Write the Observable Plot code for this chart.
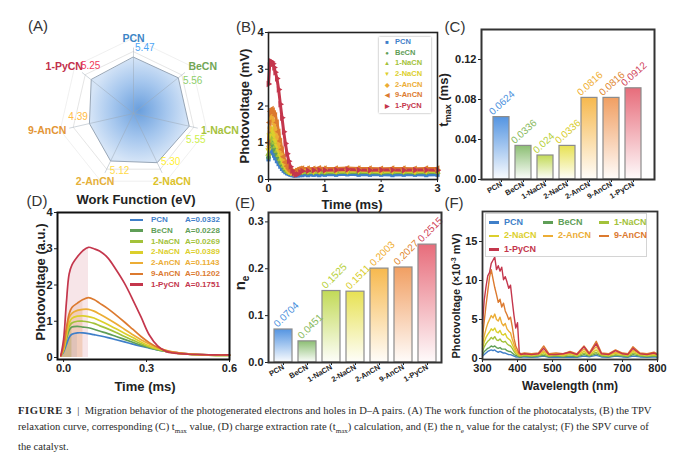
<!DOCTYPE html>
<html>
<head>
<meta charset="utf-8">
<script src="https://cdn.jsdelivr.net/npm/d3@7"></script>
<script src="https://cdn.jsdelivr.net/npm/@observablehq/plot@0.6"></script>
<style>
  body { margin: 0; background: #fff; }
  #fig { position: relative; width: 686px; height: 458px; overflow: hidden;
         font-family: "Liberation Sans", Arial, sans-serif; color: #222; }
  #fig svg { position: absolute; overflow: visible; }
  .t { position: absolute; white-space: nowrap; line-height: 1; }
  .leg { position: absolute; font-weight: bold; white-space: nowrap; }
  #cap { position: absolute; left: 18px; top: 403px; font-family: "Liberation Serif", "DejaVu Serif", serif;
         font-size: 10.6px; line-height: 16px; color: #2a2a2a; white-space: nowrap; }
  #cap sub { font-size: 7px; }
</style>
</head>
<body>
<div id="fig"></div>
<script>
// categories shared by every panel
const names = ["PCN", "BeCN", "1-NaCN", "2-NaCN", "2-AnCN", "9-AnCN", "1-PyCN"];

// (A) work function, eV
const workFunction = [5.47, 5.56, 5.55, 5.30, 5.12, 4.39, 5.25];
// (C) t_max, ms
const tMax = [0.0624, 0.0336, 0.024, 0.0336, 0.0816, 0.0816, 0.0912];
// (D) legend values
const extractionA = [0.0332, 0.0228, 0.0269, 0.0389, 0.1143, 0.1202, 0.1751];
// (E) n_e
const etaE = [0.0704, 0.0451, 0.1525, 0.1511, 0.2003, 0.2027, 0.2515];

// (B) TPV relaxation, mV
const tpvTime = [0, 0.02, 0.04, 0.06, 0.08, 0.10, 0.12, 0.15, 0.18, 0.21, 0.24, 0.27, 0.30, 0.33, 0.36, 0.39, 0.42, 0.45, 0.48,
  0.52, 0.56, 0.60, 0.7, 0.8, 0.9, 1.0, 1.2, 1.4, 1.6, 1.8, 2.0, 2.2, 2.4, 2.6, 2.8, 3.0];
const tpvValues = [
  [0.55, 0.75, 0.80, 0.78, 0.72, 0.65, 0.58, 0.50, 0.42, 0.35, 0.29, 0.24, 0.20, 0.17, 0.15, 0.13, 0.12, 0.11, 0.11, 0.11, 0.12, 0.12, 0.12, 0.13, 0.12, 0.13, 0.13, 0.14, 0.13, 0.13, 0.13, 0.12, 0.13, 0.13, 0.12, 0.13], // PCN
  [0.60, 0.90, 1.00, 0.98, 0.92, 0.84, 0.76, 0.66, 0.56, 0.47, 0.39, 0.32, 0.26, 0.22, 0.19, 0.17, 0.16, 0.16, 0.17, 0.18, 0.18, 0.19, 0.18, 0.19, 0.19, 0.18, 0.19, 0.20, 0.19, 0.19, 0.18, 0.19, 0.19, 0.18, 0.19, 0.19], // BeCN
  [0.70, 1.05, 1.20, 1.18, 1.10, 1.00, 0.90, 0.78, 0.66, 0.55, 0.45, 0.37, 0.30, 0.24, 0.20, 0.18, 0.17, 0.17, 0.18, 0.19, 0.20, 0.20, 0.21, 0.20, 0.21, 0.21, 0.20, 0.21, 0.22, 0.21, 0.20, 0.21, 0.21, 0.20, 0.21, 0.21], // 1-NaCN
  [0.80, 1.20, 1.40, 1.38, 1.30, 1.18, 1.06, 0.92, 0.78, 0.65, 0.53, 0.43, 0.34, 0.27, 0.22, 0.19, 0.18, 0.18, 0.19, 0.21, 0.22, 0.23, 0.23, 0.22, 0.23, 0.24, 0.23, 0.23, 0.24, 0.23, 0.22, 0.23, 0.23, 0.22, 0.23, 0.23], // 2-NaCN
  [0.90, 1.40, 1.65, 1.70, 1.62, 1.50, 1.36, 1.16, 0.97, 0.80, 0.65, 0.52, 0.41, 0.32, 0.26, 0.22, 0.20, 0.20, 0.22, 0.24, 0.26, 0.27, 0.27, 0.26, 0.27, 0.28, 0.27, 0.27, 0.28, 0.27, 0.26, 0.27, 0.27, 0.26, 0.27, 0.27], // 2-AnCN
  [1.00, 1.55, 1.85, 1.92, 1.88, 1.80, 1.75, 1.55, 1.30, 1.05, 0.82, 0.62, 0.47, 0.36, 0.29, 0.24, 0.21, 0.21, 0.24, 0.27, 0.29, 0.30, 0.30, 0.29, 0.31, 0.30, 0.30, 0.31, 0.30, 0.30, 0.29, 0.30, 0.30, 0.29, 0.30, 0.30], // 9-AnCN
  [2.60, 3.10, 3.22, 3.20, 3.15, 3.05, 2.92, 2.75, 2.45, 2.05, 1.68, 1.30, 0.98, 0.70, 0.50, 0.35, 0.24, 0.17, 0.13, 0.14, 0.20, 0.23, 0.24, 0.25, 0.26, 0.25, 0.26, 0.27, 0.26, 0.25, 0.26, 0.26, 0.25, 0.26, 0.26, 0.25]  // 1-PyCN
];

// (D) photovoltage, a.u.
const dTime = [-0.01, 0, 0.01, 0.02, 0.03, 0.05, 0.07, 0.09, 0.11, 0.13, 0.16, 0.19, 0.22, 0.25, 0.28, 0.31, 0.34, 0.37, 0.40, 0.45, 0.50, 0.55, 0.60];
const dValues = [
  [0.05, 0.15, 0.35, 0.55, 0.64, 0.68, 0.68, 0.66, 0.63, 0.60, 0.55, 0.49, 0.43, 0.37, 0.31, 0.26, 0.21, 0.17, 0.14, 0.10, 0.08, 0.07, 0.07],
  [0.05, 0.20, 0.50, 0.75, 0.84, 0.86, 0.84, 0.82, 0.78, 0.73, 0.66, 0.58, 0.50, 0.42, 0.34, 0.27, 0.21, 0.17, 0.13, 0.09, 0.07, 0.06, 0.06],
  [0.05, 0.20, 0.55, 0.85, 0.95, 1.00, 1.00, 0.98, 0.94, 0.88, 0.79, 0.69, 0.58, 0.48, 0.38, 0.29, 0.22, 0.17, 0.13, 0.09, 0.07, 0.06, 0.06],
  [0.05, 0.22, 0.60, 0.95, 1.08, 1.14, 1.15, 1.13, 1.09, 1.02, 0.91, 0.79, 0.67, 0.55, 0.43, 0.32, 0.24, 0.18, 0.13, 0.09, 0.07, 0.06, 0.06],
  [0.05, 0.25, 0.70, 1.10, 1.22, 1.30, 1.33, 1.33, 1.28, 1.20, 1.07, 0.93, 0.78, 0.63, 0.49, 0.37, 0.27, 0.20, 0.15, 0.10, 0.08, 0.07, 0.07],
  [0.05, 0.30, 0.80, 1.20, 1.38, 1.50, 1.60, 1.65, 1.60, 1.50, 1.35, 1.17, 0.98, 0.78, 0.58, 0.41, 0.28, 0.19, 0.14, 0.10, 0.08, 0.07, 0.07],
  [0.05, 0.50, 1.50, 2.30, 2.55, 2.78, 2.95, 3.04, 3.00, 2.94, 2.75, 2.42, 2.05, 1.60, 1.12, 0.62, 0.32, 0.17, 0.12, 0.09, 0.08, 0.07, 0.07]
];

// (F) SPV, x10^-3 mV
const wavelength = [300, 305, 310, 315, 320, 325, 330, 335, 340, 345, 350, 355, 360, 365, 370, 375, 380, 385, 390, 395, 400,
  405, 410, 420, 440, 460, 475, 490, 510, 530, 550, 570, 590, 605, 625, 640, 660, 680, 700, 715, 730, 750, 770, 790, 800];
const spvValues = [
  [0.3, 0.5, 0.7, 0.9, 1.0, 1.1, 1.0, 1.1, 0.9, 0.8, 0.9, 0.8, 0.7, 0.7, 0.6, 0.5, 0.5, 0.4, 0.3, 0.2, 0.2, 0.15, 0.15,
   0.2, 0.15, 0.2, 0.3, 0.15, 0.2, 0.15, 0.2, 0.15, 0.3, 0.2, 0.4, 0.2, 0.15, 0.3, 0.2, 0.15, 0.3, 0.2, 0.15, 0.2, 0.15],
  [0.5, 0.9, 1.1, 1.3, 1.4, 1.6, 1.5, 1.6, 1.4, 1.3, 1.4, 1.2, 1.2, 1.2, 1.0, 0.9, 0.9, 0.7, 0.5, 0.4, 0.3, 0.2, 0.2,
   0.3, 0.2, 0.3, 0.4, 0.2, 0.3, 0.2, 0.3, 0.2, 0.5, 0.3, 0.6, 0.3, 0.2, 0.4, 0.3, 0.2, 0.5, 0.3, 0.2, 0.3, 0.2],
  [0.9, 1.5, 1.9, 2.2, 2.4, 2.7, 2.5, 2.8, 2.4, 2.3, 2.5, 2.2, 2.1, 2.2, 1.9, 1.7, 1.6, 1.3, 0.9, 0.6, 0.5, 0.3, 0.3,
   0.4, 0.3, 0.4, 0.6, 0.3, 0.4, 0.3, 0.5, 0.3, 0.7, 0.4, 0.8, 0.4, 0.3, 0.5, 0.4, 0.3, 0.7, 0.4, 0.3, 0.4, 0.3],
  [1.3, 2.1, 2.7, 3.1, 3.4, 3.8, 3.6, 3.9, 3.4, 3.3, 3.6, 3.1, 3.0, 3.2, 2.7, 2.5, 2.3, 1.8, 1.3, 0.8, 0.6, 0.4, 0.4,
   0.5, 0.4, 0.5, 0.8, 0.4, 0.5, 0.4, 0.6, 0.4, 0.9, 0.5, 1.1, 0.5, 0.4, 0.7, 0.5, 0.4, 0.9, 0.5, 0.4, 0.5, 0.4],
  [1.8, 2.9, 3.8, 4.5, 5.0, 5.5, 5.2, 5.7, 5.0, 4.8, 5.3, 4.5, 4.2, 4.5, 3.8, 3.5, 3.3, 2.5, 1.8, 1.1, 0.8, 0.5, 0.5,
   0.6, 0.5, 0.6, 1.0, 0.5, 0.6, 0.5, 0.7, 0.5, 1.2, 0.6, 1.5, 0.6, 0.5, 0.8, 0.6, 0.5, 1.1, 0.6, 0.5, 0.6, 0.5],
  [2.8, 4.8, 6.8, 8.6, 10.4, 11.4, 10.2, 9.1, 8.2, 7.2, 7.6, 6.6, 7.1, 6.1, 5.6, 5.0, 5.3, 4.1, 2.6, 1.6, 1.1, 0.6, 0.6,
   0.7, 0.6, 0.7, 1.6, 0.6, 0.7, 0.6, 0.9, 0.6, 1.6, 0.7, 2.2, 0.7, 0.6, 1.1, 0.7, 0.6, 1.5, 0.7, 0.6, 0.8, 0.6],
  [4.5, 7.5, 9.2, 10.6, 11.0, 12.2, 12.6, 13.0, 11.4, 11.9, 11.2, 11.7, 10.1, 10.5, 9.8, 9.0, 9.4, 7.4, 5.5, 3.9, 4.6, 0.8, 0.5,
   0.6, 0.5, 0.6, 1.3, 0.5, 0.5, 0.6, 0.8, 0.5, 1.5, 0.6, 1.9, 0.6, 0.5, 1.0, 0.6, 0.5, 1.3, 0.6, 0.5, 0.7, 0.5]
];

// colours per category
const lineColors = ["#3f7fc9", "#5f9e57", "#a3c23a", "#dccf2c", "#ecad35", "#dc7a2f", "#c4364c"];
const radarColors = ["#3d85c6", "#72a656", "#a6c23c", "#dcc22a", "#e5b03a", "#e39637", "#c2304a"];
const barColors = ["#4b8fe0", "#86bb6c", "#bfd84e", "#e6e04a", "#f6b545", "#f09a5a", "#e66574"];
const valueColors = ["#4a8fdd", "#86b85a", "#b5cf36", "#d8cc2a", "#efad2e", "#e0862e", "#d03f58"];
const tpvSymbols = [{symbol: "square"}, {symbol: "circle"}, {symbol: "triangle"}, {symbol: "triangle", rotate: 180},
  {symbol: "diamond"}, {symbol: "triangle", rotate: -90}, {symbol: "triangle", rotate: 90}];
const legendGlyphs = ["■", "●", "▲", "▼", "◆", "◀", "▶"];

const font = "Liberation Sans, Arial, sans-serif";
const baseStyle = {fontFamily: font, fontSize: "11px", fontWeight: "bold", color: "#222", overflow: "visible"};
const fig = d3.select("#fig");

// gradients for the radar and the bars
const defs = fig.append("svg").attr("width", 0).attr("height", 0).append("defs");
const rg = defs.append("radialGradient").attr("id", "radarFill");
rg.append("stop").attr("offset", "0%").attr("stop-color", "#6a9fdd");
rg.append("stop").attr("offset", "55%").attr("stop-color", "#a6c7ee");
rg.append("stop").attr("offset", "100%").attr("stop-color", "#d6e5f7");
barColors.forEach((c, i) => {
  const g = defs.append("linearGradient").attr("id", "bar" + i).attr("x1", 0).attr("y1", 0).attr("x2", 0).attr("y2", 1);
  g.append("stop").attr("offset", "0%").attr("stop-color", c).attr("stop-opacity", 0.95);
  g.append("stop").attr("offset", "100%").attr("stop-color", c).attr("stop-opacity", 0.03);
});

function put(svg, left, top) {
  fig.append(() => svg).style("left", left + "px").style("top", top + "px");
}
function text(html, x, y, size, opts = {}) {
  return fig.append("div").attr("class", "t").html(html)
    .style("left", x + "px").style("top", y + "px")
    .style("font-size", size + "px")
    .style("font-weight", opts.weight || "bold")
    .style("color", opts.color || "#222")
    .style("transform", "translate(-50%,-50%)" + (opts.rot ? " rotate(-90deg)" : ""));
}
const intTicks = d => d;

// ---------- (A) radar ----------
const ang = i => (i * 2 * Math.PI) / names.length;
const radar = names.map((name, i) => ({name, i, value: workFunction[i], a: ang(i)}));
const rings = [2, 4, 6, 7.3].flatMap(r => d3.range(names.length).map(k => ({r, a: ang(k)})));
// labels sit on an ellipse round the axes; values just off each axis tip
const lowAxis = d => Math.cos(d.a) < -0.5;
const valA = d => d.a + (lowAxis(d) ? -0.21 : 0.17);
const valR = d => d.value + (lowAxis(d) ? 0.6 : 1);
put(Plot.plot({
  width: 200, height: 166, margin: 0,
  x: {domain: [-9.71, 9.71], axis: null},
  y: {domain: [-8.06, 8.06], axis: null},
  color: {type: "identity"},
  style: baseStyle,
  marks: [
    Plot.line(rings, {x: d => d.r * Math.sin(d.a), y: d => d.r * Math.cos(d.a), z: "r", curve: "linear-closed",
      stroke: d => d.r > 7 ? "#ececec" : "#dedede", strokeWidth: 0.8}),
    Plot.line(radar, {x: d => d.value * Math.sin(d.a), y: d => d.value * Math.cos(d.a), curve: "linear-closed",
      fill: "url(#radarFill)", stroke: "#98a6b6", strokeWidth: 1}),
    Plot.link(radar, {x1: 0, y1: 0, x2: d => 6.4 * Math.sin(d.a), y2: d => 6.4 * Math.cos(d.a), stroke: "#9aa6b4", strokeOpacity: 0.6, strokeWidth: 0.8}),
    Plot.text(radar, {x: d => 8.6 * Math.sin(d.a), y: d => 7.3 * Math.cos(d.a), text: "name",
      fill: d => radarColors[d.i], fontSize: 10.5, fontWeight: "bold"}),
    Plot.text(radar, {x: d => valR(d) * Math.sin(valA(d)), y: d => valR(d) * Math.cos(valA(d)), text: d => d.value.toFixed(2),
      fill: d => d3.color(radarColors[d.i]).brighter(0.6).formatHex(), fontSize: 10, fontWeight: "normal"})
  ]
}), 33, 30);
text("Work Function (eV)", 136, 199, 13);

// ---------- (B) TPV ----------
const tpvRows = names.flatMap((name, i) => tpvTime.map((t, k) => ({name, i, t, v: tpvValues[i][k]})));
put(Plot.plot({
  width: 222, height: 197, marginLeft: 46, marginRight: 7, marginTop: 14, marginBottom: 36,
  x: {domain: [0, 3]}, y: {domain: [0, 4]},
  color: {type: "identity"},
  style: baseStyle,
  marks: [
    Plot.line(tpvRows, {x: "t", y: "v", z: "name", stroke: d => lineColors[d.i], strokeWidth: 3}),
    ...names.map((n, i) => Plot.dot(tpvRows.filter(d => d.i === i), {x: "t", y: "v", ...tpvSymbols[i], r: 2.4, fill: lineColors[i], stroke: null})),
    Plot.axisX({ticks: [0, 1, 2, 3], tickFormat: intTicks, tickSize: 3, tickPadding: 2, label: null}),
    Plot.axisY({ticks: [0, 1, 2, 3, 4], tickFormat: intTicks, tickSize: 3, tickPadding: 2, label: null}),
    Plot.frame({stroke: "#222", strokeWidth: 1.6})
  ]
}), 222, 18);
text("Photovoltage (mV)", 244, 106, 13, {rot: true});
text("Time (ms)", 352, 204, 13);
const legB = fig.append("div").attr("class", "leg")
  .style("left", "379px").style("top", "37px").style("width", "52px").style("height", "76px")
  .style("background", "#fff").style("box-shadow", "0 0 2px rgba(0,0,0,0.4)").style("font-size", "7.5px");
names.forEach((n, i) => legB.append("div").style("height", "10.7px").style("line-height", "10.7px").style("color", lineColors[i])
  .html(`<span style="display:inline-block;width:16px;text-align:center;font-size:6px">${legendGlyphs[i]}</span>${n}`));

// ---------- (C) t_max bars ----------
const bars = names.map((name, i) => ({name, i, t: tMax[i], e: etaE[i]}));
put(Plot.plot({
  width: 236, height: 197, marginLeft: 31, marginRight: 32, marginTop: 11, marginBottom: 36,
  x: {domain: names, paddingInner: 0.26, paddingOuter: 0.44},
  y: {domain: [0, 0.15]},
  color: {type: "identity"},
  style: baseStyle,
  marks: [
    Plot.barY(bars, {x: "name", y: "t", fill: d => `url(#bar${d.i})`, stroke: "#8c8c8c", strokeWidth: 1.2}),
    Plot.text(bars, {x: "name", y: "t", text: d => String(d.t), rotate: -42, textAnchor: "start", dx: -11, dy: -4,
      fill: d => valueColors[d.i], fontSize: 10, fontWeight: "normal"}),
    Plot.axisX({tickRotate: -30, fontSize: 7.5, tickSize: 3, tickPadding: 1, label: null}),
    Plot.axisY({ticks: [0, 0.04, 0.08, 0.12], tickFormat: d => d.toFixed(2), tickSize: 3, tickPadding: 2, label: null}),
    Plot.frame({stroke: "#333", strokeWidth: 2})
  ]
}), 450, 18);
text("t<sub style='font-size:9px'>max</sub> (ms)", 445, 100, 13, {rot: true});

// ---------- (D) extraction curves ----------
const dRows = names.flatMap((name, i) => dTime.map((t, k) => ({name, i, t, v: dValues[i][k]})));
put(Plot.plot({
  width: 236, height: 200, marginLeft: 57, marginRight: 7, marginTop: 12, marginBottom: 41,
  x: {domain: [-0.022, 0.6]}, y: {domain: [-0.055, 4]},
  color: {type: "identity"},
  style: baseStyle,
  marks: [
    Plot.areaY(dRows.filter(d => d.t <= tMax[d.i] + 0.006), {x: "t", y1: 0, y2: "v", z: "name",
      fill: d => lineColors[d.i], fillOpacity: 0.13, curve: "catmull-rom"}),
    Plot.line(dRows, {x: "t", y: "v", z: "name", stroke: d => lineColors[d.i], strokeWidth: 1.7, curve: "catmull-rom"}),
    Plot.axisX({ticks: [0, 0.3, 0.6], tickFormat: d => d.toFixed(1), tickSize: 3, tickPadding: 2, label: null}),
    Plot.axisY({ticks: [0, 1, 2, 3, 4], tickFormat: intTicks, tickSize: 3, tickPadding: 2, label: null}),
    Plot.frame({stroke: "#111", strokeWidth: 2})
  ]
}), 0, 200);
text("Photovoltage (a.u.)", 40, 282, 13, {rot: true});
text("Time (ms)", 145, 386, 13);
const legD = fig.append("div").attr("class", "leg").style("left", "130px").style("top", "215px").style("font-size", "8px");
names.forEach((n, i) => legD.append("div").style("height", "10.8px").style("line-height", "10.8px").style("color", lineColors[i])
  .html(`<span style="display:inline-block;width:13px;height:2.5px;background:${lineColors[i]};vertical-align:middle;margin-right:8px"></span>` +
        `<span style="display:inline-block;width:34px">${n}</span>A=${extractionA[i].toFixed(4)}`));

// ---------- (E) n_e bars ----------
put(Plot.plot({
  width: 210, height: 200, marginLeft: 32, marginRight: 5, marginTop: 12, marginBottom: 38,
  x: {domain: names, paddingInner: 0.27, paddingOuter: 0.1},
  y: {domain: [0, 0.32]},
  color: {type: "identity"},
  style: baseStyle,
  marks: [
    Plot.barY(bars, {x: "name", y: "e", fill: d => `url(#bar${d.i})`, stroke: "#8c8c8c", strokeWidth: 1.2}),
    Plot.text(bars, {x: "name", y: "e", text: d => String(d.e), rotate: -45, textAnchor: "start", dx: -8, dy: -4,
      fill: d => valueColors[d.i], fontSize: 10, fontWeight: "normal"}),
    Plot.axisX({tickRotate: -30, fontSize: 7.5, tickSize: 3, tickPadding: 1, label: null}),
    Plot.axisY({ticks: [0, 0.1, 0.2, 0.3], tickFormat: d => d.toFixed(1), tickSize: 3, tickPadding: 2, label: null}),
    Plot.frame({stroke: "#333", strokeWidth: 2})
  ]
}), 236, 200);
text("n<sub style='font-size:10px'>e</sub>", 241, 283, 15, {rot: true});

// ---------- (F) SPV ----------
const fRows = names.flatMap((name, i) => wavelength.map((w, k) => ({name, i, w, v: spvValues[i][k]})));
put(Plot.plot({
  width: 240, height: 200, marginLeft: 36, marginRight: 29, marginTop: 11, marginBottom: 41,
  x: {domain: [300, 800]}, y: {domain: [-0.13, 18.85]},
  color: {type: "identity"},
  style: baseStyle,
  marks: [
    Plot.line(fRows, {x: "w", y: "v", z: "name", stroke: d => lineColors[d.i], strokeWidth: 1.4}),
    Plot.axisX({ticks: [300, 400, 500, 600, 700, 800], tickFormat: intTicks, tickSize: 3, tickPadding: 2, label: null}),
    Plot.axisY({ticks: [0, 5, 10, 15], tickFormat: intTicks, tickSize: 3, tickPadding: 2, label: null}),
    Plot.frame({stroke: "#333", strokeWidth: 1.8})
  ]
}), 446, 200);
text("Photovoltage (×10<sup style='font-size:7px'>-3</sup> mV)", 456, 296, 11, {rot: true});
text("Wavelength (nm)", 570, 386, 12);
const legF = fig.append("div").attr("class", "leg")
  .style("left", "485px").style("top", "213px").style("width", "160px").style("height", "40px")
  .style("background", "#fff").style("border", "1px solid #d4d4d4").style("font-size", "9px")
  .style("display", "grid").style("grid-template-columns", "54px 56px 50px").style("padding-top", "2px");
names.forEach((n, i) => legF.append("div").style("height", "12.5px").style("line-height", "12.5px").style("color", lineColors[i])
  .html(`<span style="display:inline-block;width:10px;height:2.5px;background:${lineColors[i]};vertical-align:middle;margin:0 5px 0 3px"></span>${n}`));

// ---------- panel letters ----------
[["(A)", 38, 25], ["(B)", 246, 26], ["(C)", 455, 26], ["(D)", 37, 200], ["(E)", 245, 202], ["(F)", 454, 202]]
  .forEach(([s, x, y]) => text(s, x, y, 15, {weight: "normal", color: "#333"}));

// ---------- caption ----------
fig.append("div").attr("id", "cap").html(
  "<b style='letter-spacing:0.6px'>FIGURE 3</b>&nbsp; | &nbsp;Migration behavior of the photogenerated electrons and holes in D–A pairs. (A) The work function of the photocatalysts, (B) the TPV<br>" +
  "relaxation curve, corresponding (C) t<sub>max</sub> value, (D) charge extraction rate (t<sub>max</sub>) calculation, and (E) the n<sub>e</sub> value for the catalyst; (F) the SPV curve of<br>" +
  "the catalyst.");
</script>
</body>
</html>
